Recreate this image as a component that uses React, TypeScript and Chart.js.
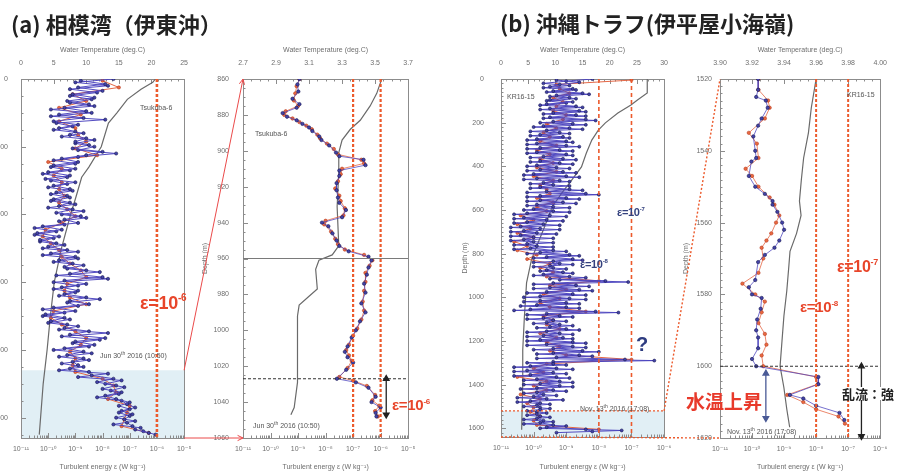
import React, { useEffect, useRef } from 'react';
import { Chart, registerables } from 'chart.js';

Chart.register(...registerables);

const FONT = '"Liberation Sans", Arial, "DejaVu Sans", sans-serif';
const CJK = '"Noto Sans CJK JP", "Noto Sans CJK SC", sans-serif';
Chart.defaults.font.family = FONT;

// ================= (a) Sagami Bay – full profile =================
const a1DepthTicks = [0, 200, 400, 600, 800, 1000];
const a1TempTicks = [0, 5, 10, 15, 20, 25];
const a1EpsTicks = [1e-11, 1e-10, 1e-9, 1e-8, 1e-7, 1e-6, 1e-5];
const a1Thresholds = [1e-6];
const a1ZoomRange = [860, 1060];

const a1TempDepth = [0, 10, 30, 60, 100, 130, 200, 260, 290, 350, 400, 500, 600, 700, 800, 900, 1000, 1050];
const a1Temp = [20.6, 20.2, 18.4, 16.3, 14.7, 13.4, 12.3, 10.4, 9.3, 8.4, 7.6, 6.2, 5.1, 4.5, 4.0, 3.4, 3.0, 2.8];

const a1BlueDepth = [
  0, 10, 20, 30, 40, 50, 60, 70, 80, 90,
  100, 110, 120, 130, 140, 150, 160, 170, 180, 190,
  200, 210, 220, 230, 240, 250, 260, 270, 280, 290,
  300, 310, 320, 330, 340, 350, 360, 370, 380, 390,
  400, 410, 420, 430, 440, 450, 460, 470, 480, 490,
  500, 510, 520, 530, 540, 550, 560, 570, 580, 590,
  600, 610, 620, 630, 640, 650, 660, 670, 680, 690,
  700, 710, 720, 730, 740, 750, 760, 770, 780, 790,
  800, 810, 820, 830, 840, 850, 860, 870, 880, 890,
  900, 910, 920, 930, 940, 950, 960, 970, 980, 990,
  1000, 1010, 1020, 1030, 1040, 1050,
];
const a1BlueLogEps = [
  -7.6, -9.0, -7.8, -9.2, -8.2, -9.2, -8.4, -9.2, -8.3, -9.9,
  -8.4, -9.9, -7.9, -9.7, -9.1, -9.8, -8.7, -9.5, -8.3, -9.0,
  -8.3, -8.9, -7.5, -8.9, -9.8, -9.0, -9.9, -9.2, -10.2, -9.3,
  -9.9, -9.3, -10.0, -9.1, -9.9, -9.2, -9.9, -9.0, -10.0, -8.7,
  -9.5, -8.6, -9.6, -9.4, -10.5, -9.7, -10.5, -9.8, -10.3, -9.4,
  -10.2, -8.9, -10.2, -8.9, -9.8, -8.7, -9.3, -8.1, -9.7, -7.8,
  -9.8, -8.9, -9.8, -9.0, -9.6, -8.1, -9.3, -8.9, -10.2, -9.4,
  -10.2, -9.2, -10.0, -8.9, -9.6, -7.8, -9.5, -8.1, -9.1, -8.5,
  -9.8, -8.4, -9.6, -8.5, -9.5, -8.7, -9.6, -7.8, -8.9, -7.3,
  -7.9, -7.2, -7.7, -7.4, -8.2, -7.3, -7.1, -6.8, -7.3, -6.9,
  -7.5, -6.8, -7.6, -6.6, -6.5, -6.05,
];
// second probe, interleaved 5 m below the first one
const a1Blue2Depth = [
  5, 15, 25, 35, 45, 55, 65, 75, 85, 95,
  105, 115, 125, 135, 145, 155, 165, 175, 185, 195,
  205, 215, 225, 235, 245, 255, 265, 275, 285, 295,
  305, 315, 325, 335, 345, 355, 365, 375, 385, 395,
  405, 415, 425, 435, 445, 455, 465, 475, 485, 495,
  505, 515, 525, 535, 545, 555, 565, 575, 585, 595,
  605, 615, 625, 635, 645, 655, 665, 675, 685, 695,
  705, 715, 725, 735, 745, 755, 765, 775, 785, 795,
  805, 815, 825, 835, 845, 855, 865, 875, 885, 895,
  905, 915, 925, 935, 945, 955, 965, 975, 985, 995,
  1005, 1015, 1025, 1035, 1045,
];
const a1Blue2LogEps = [
  -8.8, -7.9, -8.9, -8.0, -9.1, -8.3, -9.3, -8.5, -9.4, -8.6,
  -9.6, -8.7, -9.8, -8.9, -9.6, -9.0, -9.2, -8.6, -9.0, -8.5,
  -9.1, -8.0, -8.6, -9.5, -8.9, -9.8, -9.0, -10.0, -9.2, -10.1,
  -9.0, -9.8, -9.2, -9.7, -9.3, -9.8, -9.2, -9.6, -9.1, -9.7,
  -8.8, -9.4, -8.9, -10.2, -9.5, -10.4, -9.6, -10.3, -9.7, -10.0,
  -9.3, -9.9, -9.0, -9.6, -9.1, -9.4, -8.6, -9.2, -8.0, -9.4,
  -8.6, -9.5, -8.9, -9.4, -8.6, -9.2, -8.5, -9.8, -9.0, -10.1,
  -9.4, -9.9, -9.3, -9.4, -8.5, -9.2, -7.9, -9.0, -8.3, -9.4,
  -8.7, -9.3, -8.7, -9.1, -8.9, -9.2, -8.5, -8.4, -7.6, -8.2,
  -7.5, -8.0, -7.3, -7.9, -7.5, -7.0, -7.4, -7.0, -7.4, -7.0,
  -7.2, -7.1, -6.9, -6.8, -6.3,
];
const a1RedDepth = [
  5, 25, 45, 65, 85, 105, 125, 145, 165, 185,
  205, 225, 245, 265, 285, 305, 325, 345, 365, 385,
  405, 425, 445, 465, 485, 505, 525, 545, 565, 585,
  605, 625, 645, 665, 685, 705, 725, 745, 765, 785,
  805, 825, 845, 865, 885, 905, 925, 945, 965, 985,
  1005, 1025, 1045,
];
const a1RedLogEps = [
  -8.0, -7.4, -9.1, -8.6, -9.6, -8.8, -9.6, -9.0, -8.9, -8.6,
  -9.0, -8.2, -10.0, -9.5, -9.8, -9.5, -9.6, -9.4, -9.6, -9.3,
  -9.0, -9.5, -10.1, -10.2, -9.9, -9.6, -9.5, -9.2, -8.8, -8.6,
  -9.3, -9.4, -9.2, -8.6, -9.8, -9.9, -9.5, -9.0, -8.6, -8.8,
  -9.2, -9.0, -9.1, -9.0, -8.0, -7.6, -7.5, -7.8, -7.0, -7.1,
  -7.2, -7.3, -6.3,
];

// ================= (a) zoom 860–1060 m =================
const a2DepthTicks = [860, 880, 900, 920, 940, 960, 980, 1000, 1020, 1040, 1060];
const a2TempTicks = [2.7, 2.9, 3.1, 3.3, 3.5, 3.7];
const a2EpsTicks = [1e-11, 1e-10, 1e-9, 1e-8, 1e-7, 1e-6, 1e-5];
const a2Thresholds = [1e-7, 1e-6];
const a2LayerDepth = 960;
const a2MixedTop = 1027;
const a2ArrowEps = 1.6e-6;
const a2ArrowRange = [1027, 1047];

const a2TempDepth = [860, 868, 875, 883, 888, 894, 901, 912, 931, 953, 958, 961, 966, 977, 981, 986, 992, 1011, 1029, 1043, 1047];
const a2Temp = [3.54, 3.51, 3.47, 3.41, 3.35, 3.30, 3.28, 3.28, 3.27, 3.28, 3.24, 3.16, 3.14, 3.15, 3.10, 3.04, 3.03, 3.03, 3.03, 3.01, 2.99];

const a2BlueDepth = [
  860, 863, 867, 871, 874, 876, 879, 881, 883, 885,
  887, 889, 892, 894, 897, 901, 903, 905, 908, 911,
  914, 918, 922, 926, 929, 933, 937, 940, 942, 946,
  950, 953, 956, 959, 961, 965, 969, 974, 979, 985,
  990, 995, 1000, 1004, 1009, 1012, 1015, 1018, 1022, 1027,
  1029, 1032, 1037, 1040, 1043, 1046, 1048,
];
const a2BlueLogEps = [
  -8.95, -9.02, -8.99, -9.2, -8.95, -9.05, -9.56, -9.4, -9.05, -8.84,
  -8.6, -8.48, -8.23, -8.15, -7.87, -7.62, -7.5, -6.62, -6.55, -7.5,
  -7.5, -7.6, -7.6, -7.55, -7.5, -7.26, -7.4, -8.13, -7.9, -7.75,
  -7.6, -7.5, -7.16, -6.44, -6.33, -6.44, -6.5, -6.6, -6.55, -6.7,
  -6.55, -6.75, -6.9, -7.05, -7.2, -7.3, -7.2, -7.0, -7.25, -7.59,
  -6.9, -6.44, -6.18, -6.33, -6.0, -6.18, -6.15,
];
const a2RedDepth = [
  860, 864, 868, 872, 875, 878, 880, 882, 884, 886,
  888, 891, 893, 896, 899, 902, 905, 907, 910, 913,
  917, 921, 925, 928, 932, 936, 939, 941, 945, 949,
  952, 955, 958, 961, 964, 968, 973, 978, 984, 989,
  994, 999, 1003, 1008, 1011, 1014, 1017, 1021, 1026, 1028,
  1031, 1036, 1039, 1042, 1045, 1048,
];
const a2RedLogEps = [
  -8.95, -9.05, -9.1, -9.15, -9.0, -9.45, -9.5, -9.2, -8.95, -8.7,
  -8.5, -8.3, -8.2, -7.95, -7.7, -7.55, -6.7, -6.6, -7.4, -7.45,
  -7.55, -7.65, -7.5, -7.45, -7.3, -7.35, -8.0, -8.05, -7.8, -7.65,
  -7.55, -7.3, -6.6, -6.3, -6.4, -6.55, -6.55, -6.6, -6.65, -6.6,
  -6.7, -6.85, -7.0, -7.15, -7.25, -7.15, -7.05, -7.2, -7.5, -7.0,
  -6.5, -6.2, -6.3, -6.05, -6.2, -6.1,
];

// ================= (b) Okinawa Trough – full profile =================
const b1DepthTicks = [0, 200, 400, 600, 800, 1000, 1200, 1400, 1600];
const b1TempTicks = [0, 5, 10, 15, 20, 25, 30];
const b1EpsTicks = [1e-11, 1e-10, 1e-9, 1e-8, 1e-7, 1e-6];
const b1Thresholds = [1e-8, 1e-7];
const b1ZoomRange = [1520, 1640];

const b1TempDepth = [0, 64, 96, 119, 156, 201, 234, 280, 339, 403, 463, 522, 586, 678, 770, 829, 934, 1090, 1241, 1392, 1607];
const b1Temp = [26.9, 26.9, 25.1, 23.9, 21.5, 19.2, 17.9, 16.7, 15.7, 14.8, 13.0, 11.2, 9.4, 8.0, 6.5, 5.6, 4.7, 4.3, 4.0, 4.0, 3.8];

const b1BlueDepth = [
  0, 10, 20, 30, 40, 50, 60, 70, 80, 90,
  100, 110, 120, 130, 140, 150, 160, 170, 180, 190,
  200, 210, 220, 230, 240, 250, 260, 270, 280, 290,
  300, 310, 320, 330, 340, 350, 360, 370, 380, 390,
  400, 410, 420, 430, 440, 450, 460, 470, 480, 490,
  500, 510, 520, 530, 540, 550, 560, 570, 580, 590,
  600, 610, 620, 630, 640, 650, 660, 670, 680, 690,
  700, 710, 720, 730, 740, 750, 760, 770, 780, 790,
  800, 810, 820, 830, 840, 850, 860, 870, 880, 890,
  900, 910, 920, 930, 940, 950, 960, 970, 980, 990,
  1000, 1010, 1020, 1030, 1040, 1050, 1060, 1070, 1080, 1090,
  1100, 1110, 1120, 1130, 1140, 1150, 1160, 1170, 1180, 1190,
  1200, 1210, 1220, 1230, 1240, 1250, 1260, 1270, 1280, 1290,
  1300, 1310, 1320, 1330, 1340, 1350, 1360, 1370, 1380, 1390,
  1400, 1410, 1420, 1430, 1440, 1450, 1460, 1470, 1480, 1490,
  1500, 1510, 1520, 1530, 1540, 1550, 1560, 1570, 1580, 1590,
  1600, 1610, 1620,
];
const b1BlueLogEps = [
  -8.2, -9.0, -9.7, -8.9, -9.7, -8.7, -9.6, -8.3, -9.5, -8.7,
  -9.6, -9.0, -9.8, -8.5, -9.8, -8.4, -9.7, -8.4, -9.7, -8.1,
  -9.8, -8.4, -10.0, -8.5, -10.1, -8.9, -10.1, -8.9, -10.2, -8.8,
  -10.2, -8.6, -10.2, -8.8, -10.2, -8.8, -10.1, -8.7, -10.1, -8.8,
  -10.2, -8.9, -10.2, -8.7, -10.3, -8.6, -10.3, -8.9, -10.1, -8.9,
  -10.1, -8.5, -10.2, -8.0, -10.2, -8.6, -10.2, -8.7, -10.2, -8.9,
  -10.3, -8.9, -10.6, -9.0, -10.6, -9.1, -10.6, -9.2, -10.7, -9.2,
  -10.7, -9.3, -10.7, -9.4, -10.7, -9.4, -10.6, -9.4, -10.6, -9.0,
  -10.2, -8.6, -10.0, -8.5, -10.0, -8.8, -10.0, -9.0, -9.8, -8.8,
  -10.0, -8.4, -9.2, -7.1, -10.0, -8.3, -10.0, -8.2, -10.2, -8.4,
  -10.3, -8.4, -10.3, -8.6, -10.4, -8.6, -10.6, -7.4, -10.2, -8.8,
  -10.2, -9.0, -10.0, -8.8, -9.9, -8.6, -10.2, -8.8, -10.2, -8.8,
  -10.2, -8.4, -10.2, -8.4, -10.0, -8.0, -9.9, -8.2, -9.9, -6.3,
  -10.2, -9.0, -10.6, -8.8, -10.6, -9.0, -10.6, -8.9, -10.3, -8.8,
  -10.3, -8.8, -10.4, -9.0, -10.3, -9.3, -10.5, -9.1, -10.5, -9.5,
  -10.3, -9.5, -10.2, -9.6, -10.2, -9.5, -10.3, -9.4, -10.3, -9.0,
  -9.8, -7.3, -9.3,
];
// second probe, interleaved 5 m below the first one
const b1Blue2Depth = [
  5, 15, 25, 35, 45, 55, 65, 75, 85, 95,
  105, 115, 125, 135, 145, 155, 165, 175, 185, 195,
  205, 215, 225, 235, 245, 255, 265, 275, 285, 295,
  305, 315, 325, 335, 345, 355, 365, 375, 385, 395,
  405, 415, 425, 435, 445, 455, 465, 475, 485, 495,
  505, 515, 525, 535, 545, 555, 565, 575, 585, 595,
  605, 615, 625, 635, 645, 655, 665, 675, 685, 695,
  705, 715, 725, 735, 745, 755, 765, 775, 785, 795,
  805, 815, 825, 835, 845, 855, 865, 875, 885, 895,
  905, 915, 925, 935, 945, 955, 965, 975, 985, 995,
  1005, 1015, 1025, 1035, 1045, 1055, 1065, 1075, 1085, 1095,
  1105, 1115, 1125, 1135, 1145, 1155, 1165, 1175, 1185, 1195,
  1205, 1215, 1225, 1235, 1245, 1255, 1265, 1275, 1285, 1295,
  1305, 1315, 1325, 1335, 1345, 1355, 1365, 1375, 1385, 1395,
  1405, 1415, 1425, 1435, 1445, 1455, 1465, 1475, 1485, 1495,
  1505, 1515, 1525, 1535, 1545, 1555, 1565, 1575, 1585, 1595,
  1605, 1615,
];
const b1Blue2LogEps = [
  -9.3, -8.6, -9.2, -9.5, -8.8, -9.4, -8.5, -9.3, -8.9, -9.5,
  -8.8, -9.6, -8.7, -9.5, -8.6, -9.4, -8.7, -9.5, -8.4, -9.4,
  -8.8, -9.7, -8.9, -9.6, -9.2, -9.8, -9.1, -9.9, -9.0, -9.9,
  -9.0, -9.8, -9.2, -9.9, -9.0, -9.7, -9.1, -9.8, -9.2, -9.9,
  -9.3, -9.8, -9.1, -10.0, -9.0, -9.9, -9.2, -9.7, -9.4, -9.8,
  -8.9, -9.6, -8.4, -9.8, -9.0, -9.8, -9.1, -9.9, -9.4, -10.0,
  -9.4, -10.2, -9.5, -10.3, -9.6, -10.2, -9.7, -10.4, -9.8, -10.3,
  -9.9, -10.4, -10.0, -10.3, -10.0, -10.2, -9.9, -10.1, -9.4, -9.8,
  -8.9, -9.6, -8.8, -9.4, -9.2, -9.5, -9.4, -9.6, -9.1, -9.7,
  -8.9, -9.5, -7.8, -9.4, -8.7, -9.5, -8.6, -9.6, -8.8, -9.8,
  -8.9, -9.8, -9.0, -9.9, -9.0, -10.1, -8.1, -9.6, -9.2, -9.7,
  -9.4, -9.6, -9.2, -9.5, -9.0, -9.6, -9.2, -9.7, -9.1, -9.8,
  -8.8, -9.6, -8.8, -9.4, -8.5, -9.4, -8.6, -9.3, -7.2, -9.4,
  -9.4, -10.1, -9.3, -10.2, -9.4, -10.1, -9.3, -9.9, -9.2, -9.8,
  -9.2, -9.9, -9.4, -9.9, -9.7, -10.0, -9.6, -10.1, -9.8, -9.9,
  -9.8, -9.8, -9.9, -9.9, -9.8, -9.9, -9.7, -9.8, -9.4, -9.6,
  -8.4, -8.2,
];
const b1RedDepth = [
  5, 25, 45, 65, 85, 105, 125, 145, 165, 185,
  205, 225, 245, 265, 285, 305, 325, 345, 365, 385,
  405, 425, 445, 465, 485, 505, 525, 545, 565, 585,
  605, 625, 645, 665, 685, 705, 725, 745, 765, 785,
  805, 825, 845, 865, 885, 905, 925, 945, 965, 985,
  1005, 1025, 1045, 1065, 1085, 1105, 1125, 1145, 1165, 1185,
  1205, 1225, 1245, 1265, 1285, 1305, 1325, 1345, 1365, 1385,
  1405, 1425, 1445, 1465, 1485, 1505, 1525, 1545, 1565, 1585,
  1605,
];
const b1RedLogEps = [
  -7.0, -9.3, -9.2, -8.9, -9.4, -9.1, -9.3, -9.4, -9.0, -9.1,
  -9.6, -9.3, -9.7, -9.5, -9.8, -9.3, -9.9, -9.5, -9.8, -9.4,
  -9.9, -9.3, -10.0, -9.4, -9.8, -9.6, -9.5, -9.9, -9.4, -9.9,
  -9.6, -10.4, -10.0, -10.5, -10.1, -10.5, -10.0, -10.6, -10.2, -10.5,
  -9.9, -10.2, -9.5, -9.8, -9.4, -9.6, -8.0, -9.5, -9.0, -9.7,
  -9.2, -9.8, -9.5, -8.4, -9.7, -9.4, -9.6, -9.2, -9.8, -9.3,
  -9.6, -9.2, -9.5, -9.0, -7.0, -9.6, -10.0, -9.7, -10.5, -9.6,
  -10.0, -9.6, -10.4, -9.8, -10.2, -10.0, -10.1, -9.8, -10.0, -9.9,
  -8.0,
];

// ================= (b) zoom 1520–1620 m =================
const b2DepthTicks = [1520, 1540, 1560, 1580, 1600, 1620];
const b2TempTicks = [3.9, 3.92, 3.94, 3.96, 3.98, 4.0];
const b2EpsTicks = [1e-11, 1e-10, 1e-9, 1e-8, 1e-7, 1e-6];
const b2Thresholds = [1e-8, 1e-7];
const b2MixedTop = 1600;
const b2WarmArrowEps = 2.7e-10;
const b2WarmArrowRange = [1602, 1614.5];
const b2TurbArrowEps = 2.6e-7;
const b2TurbArrowRange = [1600, 1619.5];

const b2TempDepth = [1520, 1528, 1535, 1542, 1548, 1554, 1558, 1563, 1568, 1572, 1579, 1586, 1593, 1600, 1606, 1612, 1617];
const b2Temp = [3.9600, 3.9570, 3.9552, 3.9522, 3.9508, 3.9496, 3.9506, 3.9478, 3.9437, 3.9430, 3.9417, 3.9399, 3.9387, 3.9375, 3.9399, 3.9417, 3.9435];

const b2BlueDepth = [
  1520, 1523, 1525, 1526, 1528, 1531, 1533, 1536, 1540, 1542,
  1543, 1547, 1550, 1552, 1554, 1555, 1557, 1560, 1562, 1565,
  1567, 1569, 1571, 1576, 1578, 1580, 1581, 1584, 1587, 1590,
  1592, 1595, 1598, 1600, 1603, 1605, 1608, 1609, 1611, 1613, 1615,
];
const b2BlueLogEps = [
  -9.81, -9.81, -9.87, -9.57, -9.51, -9.7, -9.81, -9.96, -9.9, -9.87,
  -10.02, -10.1, -9.9, -9.6, -9.36, -9.36, -9.21, -9.06, -9.0, -9.15,
  -9.3, -9.6, -9.81, -9.9, -10.1, -10.0, -9.7, -9.73, -9.84, -9.87,
  -9.81, -9.81, -10.0, -9.87, -7.93, -7.93, -8.82, -8.4, -8.0, -7.27, -7.12,
];
const b2RedDepth = [
  1520, 1523, 1526, 1528, 1531, 1535, 1538, 1542, 1545, 1547,
  1550, 1553, 1555, 1558, 1560, 1563, 1565, 1567, 1570, 1574,
  1577, 1580, 1582, 1585, 1588, 1591, 1594, 1597, 1600, 1603,
  1605, 1608, 1610, 1612, 1614, 1616,
];
const b2RedLogEps = [
  -9.8, -9.8, -9.5, -9.45, -9.6, -10.1, -9.85, -9.8, -10.2, -10.0,
  -9.8, -9.45, -9.3, -9.15, -9.25, -9.4, -9.55, -9.7, -9.65, -9.8,
  -10.3, -9.9, -9.6, -9.7, -9.8, -9.6, -9.55, -9.7, -9.65, -8.0,
  -7.95, -8.9, -8.4, -8.0, -7.3, -7.1,
];

// ================= helpers =================
const SUP: Record<string, string> = { '-': '⁻', '0': '⁰', '1': '¹', '2': '²', '3': '³', '4': '⁴', '5': '⁵', '6': '⁶', '7': '⁷', '8': '⁸', '9': '⁹' };
function decadeLabel(v: number): string {
  const e = Math.round(Math.log10(v));
  return '10' + String(e).split('').map((c) => SUP[c] || c).join('');
}
function epsPoints(depth: number[], logEps: number[]) {
  return depth.map((d, i) => ({ x: Math.pow(10, logEps[i]), y: d }));
}
function tempPoints(depth: number[], temp: number[]) {
  return depth.map((d, i) => ({ x: temp[i], y: d }));
}

const BLUE_LINE = 'rgba(74,66,190,0.95)';
const BLUE_PT = '#4242a8';
const BLUE_EDGE = '#181850';
const RED_LINE = 'rgba(228,96,60,0.95)';
const RED_PT = '#ea6a40';
const RED_EDGE = '#b5381e';
const THRESH = '#ec5a2c';

function tempDataset(depth: number[], temp: number[]) {
  return { data: tempPoints(depth, temp), xAxisID: 't', yAxisID: 'y', showLine: true, borderColor: '#6a6a6a', borderWidth: 1.2, pointRadius: 0, order: 6 };
}
function epsDataset(depth: number[], logEps: number[], blue: boolean, r = 1.5, w = 0.8) {
  return {
    data: epsPoints(depth, logEps), xAxisID: 'x', yAxisID: 'y', showLine: true,
    borderColor: blue ? BLUE_LINE : RED_LINE, borderWidth: w,
    pointRadius: r, pointBackgroundColor: blue ? BLUE_PT : RED_PT, pointBorderColor: blue ? BLUE_EDGE : RED_EDGE,
    pointBorderWidth: 0.6, order: blue ? 3 : 4,
  };
}
function vLine(xv: number, y0: number, y1: number, color: string, width: number, dash: number[]) {
  return { data: [{ x: xv, y: y0 }, { x: xv, y: y1 }], xAxisID: 'x', yAxisID: 'y', showLine: true, borderColor: color, borderWidth: width, borderDash: dash, pointRadius: 0, order: 1 };
}
function hLine(yv: number, x0: number, x1: number, color: string, width: number, dash: number[]) {
  return { data: [{ x: x0, y: yv }, { x: x1, y: yv }], xAxisID: 'x', yAxisID: 'y', showLine: true, borderColor: color, borderWidth: width, borderDash: dash, pointRadius: 0, order: 2 };
}
function arrow(xv: number, range: number[], color: string) {
  return {
    data: [{ x: xv, y: range[0] }, { x: xv, y: range[1] }], xAxisID: 'x', yAxisID: 'y', showLine: true,
    borderColor: color, borderWidth: 1.3, pointStyle: 'triangle', pointRadius: 3.2, pointRotation: [0, 180],
    pointBackgroundColor: color, pointBorderColor: color, order: 0, clip: false,
  };
}

const decorPlugin = {
  id: 'decor',
  beforeDatasetsDraw(chart: any, _args: any, o: any) {
    const { ctx, chartArea: a, scales } = chart;
    const y = scales.y, t = scales.t, x = scales.x;
    ctx.save();
    if (o.shade) {
      const p0 = y.getPixelForValue(o.shade[0]);
      const p1 = y.getPixelForValue(o.shade[1]);
      ctx.fillStyle = '#e1eff5';
      ctx.fillRect(a.left, Math.min(p0, p1), a.right - a.left, Math.abs(p1 - p0));
    }
    ctx.strokeStyle = '#8c8c8c';
    ctx.lineWidth = 1;
    ctx.beginPath();
    const ny = Math.round((o.yMax - o.yMin) / o.yMinor);
    for (let i = 0; i <= ny; i++) {
      const v = o.yMin + i * o.yMinor;
      const p = Math.round(y.getPixelForValue(v)) + 0.5;
      const major = o.yTicks.some((tv: number) => Math.abs(tv - v) < 1e-9);
      ctx.moveTo(a.left, p); ctx.lineTo(a.left + (major ? 5 : 2.5), p);
    }
    const nt = Math.round((o.tMax - o.tMin) / o.tMinor);
    for (let i = 0; i <= nt; i++) {
      const v = o.tMin + i * o.tMinor;
      const p = Math.round(t.getPixelForValue(v)) + 0.5;
      const major = o.tTicks.some((tv: number) => Math.abs(tv - v) < 1e-9);
      ctx.moveTo(p, a.top); ctx.lineTo(p, a.top + (major ? 5 : 2.5));
    }
    const e0 = Math.round(Math.log10(o.eMin)), e1 = Math.round(Math.log10(o.eMax));
    for (let e = e0; e <= e1; e++) {
      for (let k = 1; k <= 9; k++) {
        if (e === e1 && k > 1) break;
        const p = Math.round(x.getPixelForValue(k * Math.pow(10, e))) + 0.5;
        ctx.moveTo(p, a.bottom); ctx.lineTo(p, a.bottom - (k === 1 ? 5 : 2.5));
      }
    }
    ctx.stroke();
    ctx.strokeRect(Math.round(a.left) + 0.5, Math.round(a.top) + 0.5, Math.round(a.right - a.left), Math.round(a.bottom - a.top));
    ctx.restore();
  },
};

type PanelDef = {
  left: number; top: number; width: number; height: number;
  yW: number; topH: number; bottomH: number; padRight: number;
  yLabelPad: number; yTitlePad: number;
  yMin: number; yMax: number; yTicks: number[]; yMinor: number;
  tMin: number; tMax: number; tTicks: number[]; tMinor: number; tDec: number;
  eMin: number; eMax: number; eTicks: number[];
  shade?: number[];
  datasets: any[];
};

const TICK_COLOR = '#6e6e6e';

function buildConfig(p: PanelDef): any {
  return {
    type: 'scatter',
    data: { datasets: p.datasets },
    plugins: [decorPlugin],
    options: {
      animation: false, responsive: false, maintainAspectRatio: false, devicePixelRatio: 1,
      layout: { padding: { left: 0, right: p.padRight, top: 0, bottom: 0 } },
      plugins: {
        legend: { display: false }, tooltip: { enabled: false },
        decor: { shade: p.shade, yMin: p.yMin, yMax: p.yMax, yTicks: p.yTicks, yMinor: p.yMinor, tMin: p.tMin, tMax: p.tMax, tTicks: p.tTicks, tMinor: p.tMinor, eMin: p.eMin, eMax: p.eMax },
      },
      scales: {
        x: {
          type: 'logarithmic', position: 'bottom', min: p.eMin, max: p.eMax,
          afterBuildTicks: (s: any) => { s.ticks = p.eTicks.map((v) => ({ value: v })); },
          afterFit: (s: any) => { s.height = p.bottomH; },
          grid: { display: false, drawTicks: false }, border: { display: false },
          ticks: { autoSkip: false, maxRotation: 0, padding: 7, color: TICK_COLOR, font: { size: 7 }, callback: (v: any) => decadeLabel(Number(v)) },
          title: { display: true, text: 'Turbulent energy ε (W kg⁻¹)', color: TICK_COLOR, font: { size: 7 }, padding: { top: 0, bottom: 4 } },
        },
        t: {
          type: 'linear', position: 'top', min: p.tMin, max: p.tMax,
          afterBuildTicks: (s: any) => { s.ticks = p.tTicks.map((v) => ({ value: v })); },
          afterFit: (s: any) => { s.height = p.topH; },
          grid: { display: false, drawTicks: false }, border: { display: false },
          ticks: { autoSkip: false, maxRotation: 0, padding: 12, color: TICK_COLOR, font: { size: 7 }, callback: (v: any) => Number(v).toFixed(p.tDec) },
          title: { display: true, text: 'Water Temperature (deg.C)', color: TICK_COLOR, font: { size: 7 }, padding: { top: 10, bottom: 0 } },
        },
        y: {
          type: 'linear', position: 'left', reverse: true, min: p.yMin, max: p.yMax,
          afterBuildTicks: (s: any) => { s.ticks = p.yTicks.map((v) => ({ value: v })); },
          afterFit: (s: any) => { s.width = p.yW; },
          grid: { display: false, drawTicks: false }, border: { display: false },
          ticks: { autoSkip: false, padding: p.yLabelPad, color: TICK_COLOR, font: { size: 7 }, callback: (v: any) => String(v) },
          title: { display: true, text: 'Depth (m)', color: TICK_COLOR, font: { size: 7 }, padding: { top: p.yTitlePad, bottom: 0 } },
        },
      },
    },
  };
}

const PANEL_A1: PanelDef = {
  left: -40, top: 36, width: 240, height: 439, yW: 61, topH: 43, bottomH: 37, padRight: 13,
  yLabelPad: 13, yTitlePad: 4,
  yMin: 0, yMax: 1060, yTicks: a1DepthTicks, yMinor: 50,
  tMin: 0, tMax: 25, tTicks: a1TempTicks, tMinor: 1, tDec: 0,
  eMin: 1e-11, eMax: 1e-5, eTicks: a1EpsTicks,
  shade: a1ZoomRange,
  datasets: [
    tempDataset(a1TempDepth, a1Temp),
    epsDataset(a1RedDepth, a1RedLogEps, false, 1.6, 1.0),
    epsDataset(a1Blue2Depth, a1Blue2LogEps, true, 1.6, 1.0),
    epsDataset(a1BlueDepth, a1BlueLogEps, true, 1.6, 1.0),
    ...a1Thresholds.map((v) => vLine(v, 0, 1060, THRESH, 2.6, [3, 2])),
  ],
};

const PANEL_A2: PanelDef = {
  left: 190, top: 36, width: 235, height: 439, yW: 53, topH: 43, bottomH: 37, padRight: 14,
  yLabelPad: 14, yTitlePad: 11,
  yMin: 860, yMax: 1060, yTicks: a2DepthTicks, yMinor: 5,
  tMin: 2.7, tMax: 3.7, tTicks: a2TempTicks, tMinor: 0.05, tDec: 1,
  eMin: 1e-11, eMax: 1e-5, eTicks: a2EpsTicks,
  datasets: [
    tempDataset(a2TempDepth, a2Temp),
    epsDataset(a2RedDepth, a2RedLogEps, false, 1.7),
    epsDataset(a2BlueDepth, a2BlueLogEps, true, 1.7),
    ...a2Thresholds.map((v) => vLine(v, 860, 1060, THRESH, 2.2, [3, 2])),
    hLine(a2LayerDepth, 1e-11, 1e-5, '#7a7a7a', 1, []),
    hLine(a2MixedTop, 1e-11, 1e-5, '#333333', 1.1, [3, 2]),
    arrow(a2ArrowEps, a2ArrowRange, '#222222'),
  ],
};

const PANEL_B1: PanelDef = {
  left: 450, top: 36, width: 230, height: 439, yW: 51, topH: 43, bottomH: 38, padRight: 13,
  yLabelPad: 17, yTitlePad: 11,
  yMin: 0, yMax: 1640, yTicks: b1DepthTicks, yMinor: 20,
  tMin: 0, tMax: 30, tTicks: b1TempTicks, tMinor: 1, tDec: 0,
  eMin: 1e-11, eMax: 1e-6, eTicks: b1EpsTicks,
  shade: b1ZoomRange,
  datasets: [
    tempDataset(b1TempDepth, b1Temp),
    epsDataset(b1RedDepth, b1RedLogEps, false, 1.5, 1.0),
    epsDataset(b1Blue2Depth, b1Blue2LogEps, true, 1.5, 1.0),
    epsDataset(b1BlueDepth, b1BlueLogEps, true, 1.5, 1.0),
    ...b1Thresholds.map((v) => vLine(v, 0, 1640, THRESH, 1.6, [4, 3])),
    hLine(b1ZoomRange[0], 1e-11, 1e-6, THRESH, 1.3, [2, 2]),
  ],
};

const PANEL_B2: PanelDef = {
  left: 675, top: 36, width: 224, height: 439, yW: 45, topH: 43, bottomH: 37, padRight: 10,
  yLabelPad: 8, yTitlePad: 7,
  yMin: 1520, yMax: 1620, yTicks: b2DepthTicks, yMinor: 2,
  tMin: 3.9, tMax: 4.0, tTicks: b2TempTicks, tMinor: 0.005, tDec: 2,
  eMin: 1e-11, eMax: 1e-6, eTicks: b2EpsTicks,
  datasets: [
    tempDataset(b2TempDepth, b2Temp),
    epsDataset(b2RedDepth, b2RedLogEps, false, 1.7),
    epsDataset(b2BlueDepth, b2BlueLogEps, true, 1.7),
    ...b2Thresholds.map((v) => vLine(v, 1520, 1620, THRESH, 2.0, [3, 2])),
    hLine(b2MixedTop, 1e-11, 1e-6, '#333333', 1.1, [3, 2]),
    arrow(b2WarmArrowEps, b2WarmArrowRange, '#4a5a96'),
    arrow(b2TurbArrowEps, b2TurbArrowRange, '#222222'),
  ],
};

const PANELS = [PANEL_A1, PANEL_A2, PANEL_B1, PANEL_B2];

function drawArrowLine(ctx: CanvasRenderingContext2D, x0: number, y0: number, x1: number, y1: number, head: boolean) {
  ctx.beginPath(); ctx.moveTo(x0, y0); ctx.lineTo(x1, y1); ctx.stroke();
  if (head) {
    const ang = Math.atan2(y1 - y0, x1 - x0);
    const L = 6, W = 0.45;
    ctx.beginPath();
    ctx.moveTo(x1 - L * Math.cos(ang - W), y1 - L * Math.sin(ang - W));
    ctx.lineTo(x1, y1);
    ctx.lineTo(x1 - L * Math.cos(ang + W), y1 - L * Math.sin(ang + W));
    ctx.stroke();
  }
}

const Eps = ({ x, y, size, color, exp }: { x: number; y: number; size: number; color: string; exp: string }) => (
  <div style={{ position: 'absolute', left: x, top: y, fontSize: size, fontWeight: 700, color, fontFamily: FONT, lineHeight: 1, whiteSpace: 'nowrap', letterSpacing: -0.3 }}>
    ε=10<span style={{ fontSize: Math.round(size * 0.55), position: 'relative', top: -size * 0.42 }}>{exp}</span>
  </div>
);

const Small = ({ x, y, children }: { x: number; y: number; children: any }) => (
  <div style={{ position: 'absolute', left: x, top: y, fontSize: 7, color: '#555', fontFamily: FONT, lineHeight: 1, whiteSpace: 'nowrap' }}>{children}</div>
);

export default function App() {
  const refs = [useRef<HTMLCanvasElement>(null), useRef<HTMLCanvasElement>(null), useRef<HTMLCanvasElement>(null), useRef<HTMLCanvasElement>(null)];
  const overlay = useRef<HTMLCanvasElement>(null);

  useEffect(() => {
    const charts = PANELS.map((p, i) => new Chart(refs[i].current as HTMLCanvasElement, buildConfig(p)));
    const ctx = (overlay.current as HTMLCanvasElement).getContext('2d') as CanvasRenderingContext2D;
    ctx.clearRect(0, 0, 899, 475);
    const pt = (ci: number, side: 'left' | 'right', depth: number) => ({
      x: PANELS[ci].left + charts[ci].chartArea[side],
      y: PANELS[ci].top + charts[ci].scales.y.getPixelForValue(depth),
    });
    ctx.strokeStyle = '#ea4a4a';
    ctx.lineWidth = 1;
    let p0 = pt(0, 'right', a1ZoomRange[0]), p1 = pt(1, 'left', a1ZoomRange[0]);
    drawArrowLine(ctx, p0.x, p0.y, p1.x, p1.y, true);
    p0 = pt(0, 'right', a1ZoomRange[1]); p1 = pt(1, 'left', a1ZoomRange[1]);
    drawArrowLine(ctx, p0.x, p0.y, p1.x, p1.y, true);
    ctx.strokeStyle = THRESH;
    ctx.lineWidth = 1.4;
    ctx.setLineDash([2, 2]);
    p0 = pt(2, 'right', b1ZoomRange[0]); p1 = pt(3, 'left', b2DepthTicks[0]);
    drawArrowLine(ctx, p0.x, p0.y, p1.x, p1.y, false);
    p0 = pt(2, 'left', b1ZoomRange[1]); p1 = pt(3, 'left', b2DepthTicks[b2DepthTicks.length - 1]);
    drawArrowLine(ctx, p0.x, p0.y, p1.x, p1.y, false);
    ctx.setLineDash([]);
    return () => { charts.forEach((c) => c.destroy()); };
  }, []);

  return (
    <div style={{ position: 'absolute', left: 0, top: 0, width: 899, height: 475, overflow: 'hidden', background: '#fff' }}>
      {PANELS.map((p, i) => (
        <canvas key={i} ref={refs[i]} width={p.width} height={p.height}
          style={{ position: 'absolute', left: p.left, top: p.top, width: p.width, height: p.height }} />
      ))}
      <canvas ref={overlay} width={899} height={475} style={{ position: 'absolute', left: 0, top: 0, width: 899, height: 475, pointerEvents: 'none' }} />

      <div style={{ position: 'absolute', left: 11, top: 12, fontSize: 22, fontWeight: 700, fontFamily: CJK, color: '#222', lineHeight: 1, whiteSpace: 'nowrap' }}>(a) 相模湾（伊東沖）</div>
      <div style={{ position: 'absolute', left: 500, top: 11, fontSize: 22, fontWeight: 700, fontFamily: CJK, color: '#222', lineHeight: 1, whiteSpace: 'nowrap' }}>(b) 沖縄トラフ(伊平屋小海嶺)</div>

      <Small x={140} y={104}>Tsukuba-6</Small>
      <Small x={255} y={130}>Tsukuba-6</Small>
      <Small x={100} y={351}>Jun 30<sup style={{ fontSize: 5 }}>th</sup> 2016 (10:50)</Small>
      <Small x={253} y={421}>Jun 30<sup style={{ fontSize: 5 }}>th</sup> 2016 (10:50)</Small>
      <Small x={507} y={93}>KR16-15</Small>
      <Small x={847} y={91}>KR16-15</Small>
      <Small x={580} y={404}>Nov. 13<sup style={{ fontSize: 5 }}>th</sup> 2016 (17:08)</Small>
      <Small x={727} y={427}>Nov. 13<sup style={{ fontSize: 5 }}>th</sup> 2016 (17:08)</Small>

      <Eps x={140} y={294} size={18} color="#e8452a" exp="-6" />
      <Eps x={392} y={397} size={15} color="#e8452a" exp="-6" />
      <Eps x={617} y={207} size={11} color="#34417e" exp="-7" />
      <Eps x={580} y={259} size={11} color="#34417e" exp="-8" />
      <div style={{ position: 'absolute', left: 636, top: 334, fontSize: 20, fontWeight: 700, color: '#2e3c80', fontFamily: FONT, lineHeight: 1 }}>?</div>
      <Eps x={837} y={259} size={16} color="#e8452a" exp="-7" />
      <Eps x={800} y={299} size={15} color="#e8452a" exp="-8" />

      <div style={{ position: 'absolute', left: 686, top: 391, fontSize: 19, fontWeight: 700, fontFamily: CJK, color: '#e8392a', lineHeight: 1, whiteSpace: 'nowrap' }}>水温上昇</div>
      <div style={{ position: 'absolute', left: 842, top: 387, fontSize: 13, fontWeight: 700, fontFamily: CJK, color: '#222', lineHeight: 1, whiteSpace: 'nowrap', background: '#fff' }}>乱流：強</div>
    </div>
  );
}
